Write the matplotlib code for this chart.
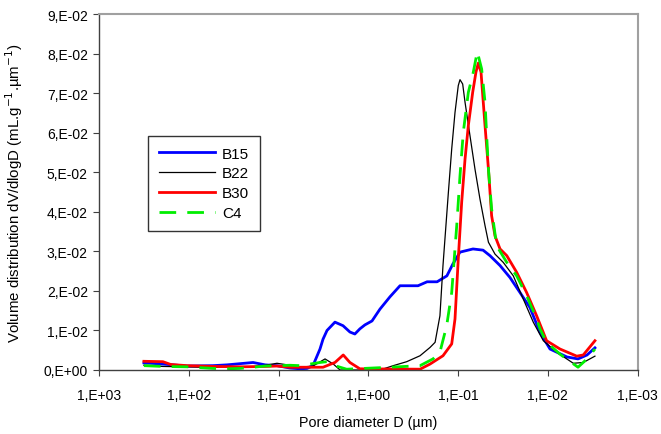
import matplotlib
matplotlib.use("Agg")
import matplotlib.pyplot as plt

plt.rcParams['font.family'] = ['Liberation Sans', 'DejaVu Sans']

# ---- data (pore diameter in µm, dV/dlogD) ----
b15_d = [316, 194, 105, 53.7, 37.5, 19.2, 14.1, 10.4, 7.45, 5.75, 4.81, 4.13, 3.45, 3.19, 2.88,
         2.35, 1.91, 1.60, 1.41, 1.24, 1.09, 0.908, 0.740, 0.573, 0.443, 0.279, 0.221, 0.171,
         0.133, 0.114, 0.095, 0.0681, 0.0526, 0.0440, 0.0340, 0.0264, 0.0204, 0.0158, 0.0122,
         0.00944, 0.00611, 0.00460, 0.00365, 0.00298]
b15_v = [0.0018, 0.0015, 0.0010, 0.0011, 0.0013, 0.0019, 0.0013, 0.0011, 0.0005, 0.0003, 0.0004,
         0.0011, 0.0053, 0.0078, 0.0100, 0.0121, 0.0112, 0.0096, 0.0091, 0.0104, 0.0114, 0.0124,
         0.0154, 0.0185, 0.0213, 0.0213, 0.0223, 0.0223, 0.0238, 0.0268, 0.0298, 0.0306, 0.0303,
         0.0289, 0.0264, 0.0234, 0.0196, 0.0158, 0.0095, 0.0053, 0.0033, 0.0028, 0.0038, 0.0056]

b22_d = [316, 194, 105, 53.7, 37.5, 26.9, 19.2, 14.1, 10.4, 7.45, 5.75, 4.13, 3.03, 2.45, 2.06,
         0.740, 0.526, 0.373, 0.265, 0.205, 0.180, 0.159, 0.147, 0.128, 0.1175, 0.108, 0.0993,
         0.095, 0.0887, 0.0835, 0.0735, 0.0647, 0.0569, 0.0500, 0.0458, 0.0387, 0.0313, 0.0242,
         0.0187, 0.0145, 0.0112, 0.00795, 0.00519, 0.00402, 0.00298]
b22_v = [0.0012, 0.0009, 0.0008, 0.0006, 0.0009, 0.0008, 0.0008, 0.0012, 0.0017, 0.0012, 0.0007,
         0.0010, 0.0028, 0.0015, 0.0000, 0.0000, 0.0011, 0.0021, 0.0036, 0.0057, 0.0070, 0.0137,
         0.0264, 0.0449, 0.0559, 0.0651, 0.0719, 0.0734, 0.0723, 0.0677, 0.0592, 0.0508, 0.0432,
         0.0365, 0.0323, 0.0293, 0.0272, 0.0238, 0.0179, 0.0121, 0.0074, 0.0045, 0.0017, 0.0019,
         0.0035]

b30_d = [316, 194, 159, 105, 53.7, 26.9, 14.1, 10.4, 7.45, 4.13, 3.19, 2.35, 1.90, 1.60, 1.24,
         0.265, 0.205, 0.147, 0.1175, 0.108, 0.0993, 0.0910, 0.0835, 0.0767, 0.0686, 0.0631,
         0.0594, 0.0554, 0.0500, 0.0458, 0.0422, 0.0387, 0.0340, 0.0286, 0.0222, 0.0172, 0.0133,
         0.0103, 0.0073, 0.00475, 0.00402, 0.00298]
b30_v = [0.0022, 0.0021, 0.0014, 0.0011, 0.0009, 0.0008, 0.0009, 0.0010, 0.0007, 0.0007, 0.0007,
         0.0019, 0.0038, 0.0019, 0.0003, 0.0002, 0.0015, 0.0036, 0.0066, 0.0129, 0.0281, 0.0424,
         0.0533, 0.0618, 0.0702, 0.0753, 0.0776, 0.0753, 0.0618, 0.0508, 0.0390, 0.0339, 0.0306,
         0.0289, 0.0247, 0.0196, 0.0137, 0.0074, 0.0053, 0.0035, 0.0038, 0.0074]

c4_d = [316, 194, 105, 53.7, 37.5, 26.9, 19.2, 14.1, 10.4, 7.45, 5.75, 3.45, 2.90, 2.35, 1.74,
        0.573, 0.265, 0.190, 0.159, 0.1337, 0.1175, 0.1033, 0.095, 0.0873, 0.0767, 0.0675,
        0.0610, 0.0545, 0.0500, 0.0479, 0.0458, 0.0422, 0.0371, 0.0286, 0.0222, 0.0172, 0.0133,
        0.0122, 0.0103, 0.0073, 0.00460, 0.00365, 0.00298]
c4_v = [0.0011, 0.0009, 0.0008, 0.0004, 0.0003, 0.0004, 0.0007, 0.0010, 0.0011, 0.0012, 0.0011,
        0.0019, 0.0021, 0.0011, 0.0002, 0.0007, 0.0011, 0.0028, 0.0045, 0.0112, 0.0196, 0.0365,
        0.0491, 0.0601, 0.0702, 0.0753, 0.0805, 0.0761, 0.0677, 0.0592, 0.0508, 0.0407, 0.0314,
        0.0272, 0.0238, 0.0188, 0.0129, 0.0104, 0.0070, 0.0040, 0.0007, 0.0028, 0.0053]

x_ticks = [1e3, 1e2, 1e1, 1e0, 1e-1, 1e-2, 1e-3]
x_labels = ["1,E+03", "1,E+02", "1,E+01", "1,E+00", "1,E-01", "1,E-02", "1,E-03"]
y_ticks = [0.00, 0.01, 0.02, 0.03, 0.04, 0.05, 0.06, 0.07, 0.08, 0.09]
y_labels = ["0,E+00", "1,E-02", "2,E-02", "3,E-02", "4,E-02", "5,E-02", "6,E-02", "7,E-02",
            "8,E-02", "9,E-02"]

fig = plt.figure(figsize=(6.61, 4.35), dpi=100)
ax = fig.add_axes([99/661, 1 - 371/435, (637.5 - 99)/661, (371 - 15)/435])

ax.plot(b15_d, b15_v, color="#0000FF", lw=2.0, label="B15")
ax.plot(b22_d, b22_v, color="#000000", lw=0.9, label="B22")
ax.plot(b30_d, b30_v, color="#FF0000", lw=2.0, label="B30")
ax.plot(c4_d, c4_v, color="#00EE00", lw=2.0, ls=(0, (6, 4)), label="C4")

ax.set_xscale("log")
ax.set_xlim(1e3, 1e-3)
ax.set_ylim(0, 0.09)
ax.set_xticks(x_ticks)
ax.set_xticklabels(x_labels)
ax.minorticks_off()
ax.set_yticks(y_ticks)
ax.set_yticklabels(y_labels)
ax.tick_params(axis="both", labelsize=10, direction="out", length=4, width=0.8,
               color="#404040")
ax.tick_params(axis="x", pad=9)
ax.tick_params(axis="y", pad=4)

for s in ["left", "bottom"]:
    ax.spines[s].set_color("#404040")
    ax.spines[s].set_linewidth(1.0)
for s in ["top", "right"]:
    ax.spines[s].set_color("#A0A0A0")
    ax.spines[s].set_linewidth(1.5)

ax.set_xlabel("Pore diameter D (µm)", fontsize=10.3, labelpad=9)
ax.set_ylabel(r"Volume distribution dV/dlogD (mL.g$^{-1}$.µm$^{-1}$)", fontsize=10.8)
ax.yaxis.set_label_coords(-(99 - 25) / 538.5, (371 - 193) / 356)

leg = ax.legend(loc="upper left", bbox_to_anchor=((148 - 99) / 538.5, (371 - 137) / 356),
                frameon=True, fancybox=False, edgecolor="black", fontsize=11,
                handlelength=3.7, handletextpad=0.45, labelspacing=0.38, borderpad=0.7,
                borderaxespad=0)
leg.get_frame().set_linewidth(1.0)

fig.savefig("out.png", dpi=100)
